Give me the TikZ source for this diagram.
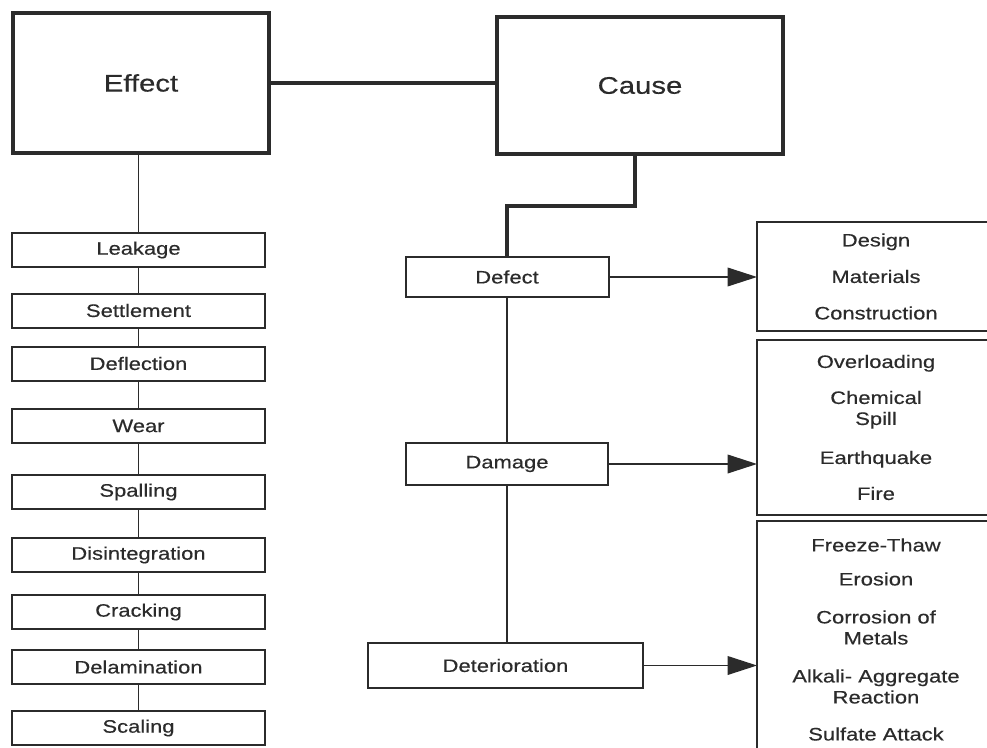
\documentclass[tikz,border=0pt]{standalone}
\usepackage{fontspec}
\setmainfont[FakeStretch=1.22,FakeBold=0.4]{Liberation Sans}
\usetikzlibrary{arrows.meta}
\definecolor{ink}{HTML}{2B2B2B}
\begin{document}
\begin{tikzpicture}[x=0.75pt,y=-0.75pt,
  every node/.style={inner sep=0pt,outer sep=0pt,text=ink},
  bigbox/.style={draw=ink,line width=3pt,rectangle,font=\fontsize{18pt}{21pt}\selectfont},
  smallbox/.style={draw=ink,line width=1.5pt,rectangle,font=\fontsize{13.5pt}{16pt}\selectfont},
  effbox/.style={smallbox,minimum width=189.75pt,minimum height=25.5pt},
  listbox/.style={draw=ink,line width=1.2pt,rectangle,align=center,minimum width=178.5pt,font=\fontsize{13.5pt}{15.75pt}\selectfont},
  thick line/.style={draw=ink,line width=2.6pt},
  mid line/.style={draw=ink,line width=1.8pt},
  thin line/.style={draw=ink,line width=1.4pt},
  arrowline/.style={draw=ink,line width=1pt,-{Triangle[length=22pt,width=14pt]}}
]
\clip (0,0) rectangle (987,748);
\fill[white] (0,0) rectangle (987,748);

% top boxes
\node[bigbox,minimum width=192pt,minimum height=105pt] (effect) at (141,83) {Effect};
\node[bigbox,minimum width=214.5pt,minimum height=102.75pt] (cause) at (640,85.5) {Cause};
\draw[thick line] (effect.east) -- (effect.east -| cause.west);

% effect list
\node[effbox] (leakage) at (138.5,250) {Leakage};
\node[effbox] (settlement) at (138.5,310.5) {Settlement};
\node[effbox] (deflection) at (138.5,363.5) {Deflection};
\node[effbox] (wear) at (138.5,426) {Wear};
\node[effbox] (spalling) at (138.5,492) {Spalling};
\node[effbox] (disint) at (138.5,555) {Disintegration};
\node[effbox] (cracking) at (138.5,612) {Cracking};
\node[effbox] (delam) at (138.5,667) {Delamination};
\node[effbox] (scaling) at (138.5,728) {Scaling};

\draw[thin line] (leakage.north) -- (leakage.north |- effect.south);
\draw[thin line] (leakage) -- (settlement);
\draw[thin line] (settlement) -- (deflection);
\draw[thin line] (deflection) -- (wear);
\draw[thin line] (wear) -- (spalling);
\draw[thin line] (spalling) -- (disint);
\draw[thin line] (disint) -- (cracking);
\draw[thin line] (cracking) -- (delam);
\draw[thin line] (delam) -- (scaling);

% cause list
\node[smallbox,minimum width=152.25pt,minimum height=30pt] (defect) at (507,277) {Defect};
\node[smallbox,minimum width=151.5pt,minimum height=31.5pt] (damage) at (507,464) {Damage};
\node[smallbox,minimum width=206.25pt,minimum height=33.75pt] (deter) at (505.5,665.5) {Deterioration};

\coordinate (cbend) at (635,206);
\draw[thick line] (cbend |- cause.south) -- (cbend) -| (defect.north);
\draw[mid line] (defect) -- (damage);
\draw[mid line] (damage.south) -- (damage.south |- deter.north);

% right boxes
\node[listbox,minimum height=81.75pt] (b1) at (876,276.5)
  {Design\\[11.6pt]Materials\\[11.6pt]Construction};
\node[listbox,minimum height=131.25pt] (b2) at (876,427.5)
  {Overloading\\[11.25pt]Chemical\\Spill\\[13.5pt]Earthquake\\[11.25pt]Fire};
\node[listbox,minimum height=177.75pt] (b3) at (876,639.5)
  {Freeze-Thaw\\[9.75pt]Erosion\\[12.75pt]Corrosion of\\Metals\\[12.75pt]Alkali- Aggregate\\Reaction\\[12pt]Sulfate Attack};

\draw[arrowline] (defect.east) -- (defect.east -| b1.west);
\draw[arrowline] (damage.east) -- (damage.east -| b2.west);
\draw[arrowline] (deter.east) -- (deter.east -| b3.west);
\end{tikzpicture}
\end{document}
